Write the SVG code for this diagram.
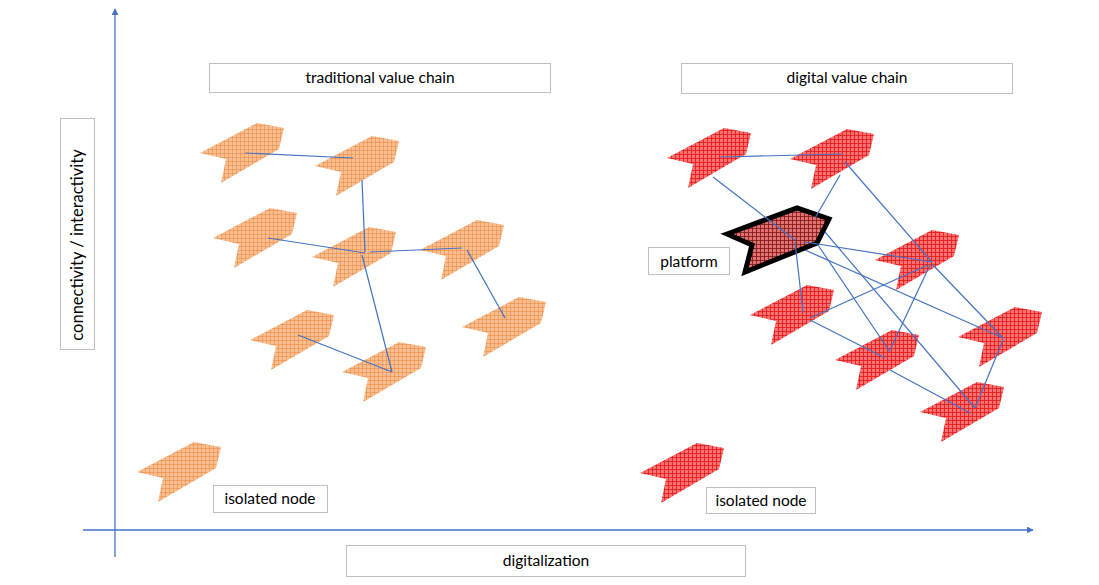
<svg xmlns="http://www.w3.org/2000/svg" width="1099" height="585" viewBox="0 0 1099 585">
<style>
.box{fill:#fff;stroke:#bfbfbf;stroke-width:1}
.lbl{font-family:Lato,"Open Sans","Liberation Sans",sans-serif;font-size:15.5px;fill:#000;text-anchor:middle;dominant-baseline:central}
.ax{stroke:#4472c4;stroke-width:1.3;fill:none}
.cn{stroke:#4472c4;stroke-width:1.2;fill:none}
.or{fill:url(#gOr)}
.rd{fill:url(#gRd)}
</style>
<defs>
<pattern id="gOr" width="4" height="4" patternUnits="userSpaceOnUse">
<rect width="4" height="4" fill="#f9bf90"/>
<path d="M0 0.5H4M0.5 0V4" stroke="#ee9050" stroke-width="0.7"/>
</pattern>
<pattern id="gRd" width="4" height="4" patternUnits="userSpaceOnUse">
<rect width="4" height="4" fill="#ff7070"/>
<path d="M0 0.5H4M0.5 0V4" stroke="#e01818" stroke-width="0.8"/>
</pattern>
<pattern id="gPl" width="4" height="4" patternUnits="userSpaceOnUse">
<rect width="4" height="4" fill="#e27272"/>
<path d="M0 0.5H4M0.5 0V4" stroke="#7a1414" stroke-width="0.8"/>
</pattern>
<path id="chev" d="M0,0 L57,-30 L84,-25 L79,-4 L21,30 L26,6 Z"/>
<marker id="arr" viewBox="0 0 10 10" refX="9" refY="5" markerWidth="7" markerHeight="7" orient="auto" markerUnits="userSpaceOnUse">
<path d="M0,0 L10,5 L0,10 Z" fill="#4472c4"/>
</marker>
</defs>
<rect width="1099" height="585" fill="#fff"/>

<g id="axes">
<line class="ax" x1="115" y1="557" x2="115" y2="9" marker-end="url(#arr)"/>
<line class="ax" x1="83" y1="530" x2="1033" y2="530" marker-end="url(#arr)"/>
</g>

<g id="traditional-nodes">
<use id="o1" href="#chev" class="or" transform="translate(200,153)"/>
<use id="o2" href="#chev" class="or" transform="translate(315,166)"/>
<use id="o3" href="#chev" class="or" transform="translate(213,238)"/>
<use id="o4" href="#chev" class="or" transform="translate(312,257)"/>
<use id="o5" href="#chev" class="or" transform="translate(420,250)"/>
<use id="o6" href="#chev" class="or" transform="translate(462,327)"/>
<use id="o7" href="#chev" class="or" transform="translate(250,340)"/>
<use id="o8" href="#chev" class="or" transform="translate(342,372)"/>
<use id="o9" href="#chev" class="or" transform="translate(137,472)"/>
</g>

<g id="digital-nodes">
<use id="r1" href="#chev" class="rd" transform="translate(667,158)"/>
<use id="r2" href="#chev" class="rd" transform="translate(790,159)"/>
<use id="r3" href="#chev" class="rd" transform="translate(875,260)"/>
<use id="r4" href="#chev" class="rd" transform="translate(750,315)"/>
<use id="r5" href="#chev" class="rd" transform="translate(958,337)"/>
<use id="r6" href="#chev" class="rd" transform="translate(835,360)"/>
<use id="r7" href="#chev" class="rd" transform="translate(920,412)"/>
<use id="r8" href="#chev" class="rd" transform="translate(640,473)"/>
</g>

<g id="platform-node">
<path d="M727,234 L797,208 L829,219 L817,243 L745,272 L752,245 Z" fill="url(#gPl)" stroke="#000" stroke-width="5" stroke-linejoin="miter"/>
</g>

<g id="connectors">
<line class="cn" x1="245" y1="153" x2="353" y2="158"/>
<line class="cn" x1="362" y1="180" x2="365" y2="252"/>
<line class="cn" x1="268" y1="238" x2="365" y2="253"/>
<line class="cn" x1="370" y1="252" x2="462" y2="248"/>
<line class="cn" x1="362" y1="255" x2="392" y2="372"/>
<line class="cn" x1="298" y1="335" x2="392" y2="372"/>
<line class="cn" x1="467" y1="250" x2="505" y2="318"/>

<line class="cn" x1="720" y1="157" x2="843" y2="154"/>
<line class="cn" x1="713" y1="177" x2="795" y2="240"/>
<line class="cn" x1="795" y1="242" x2="803" y2="312"/>
<line class="cn" x1="840" y1="175" x2="815" y2="218"/>
<line class="cn" x1="845" y1="162" x2="932" y2="262"/>
<line class="cn" x1="932" y1="264" x2="1003" y2="338"/>
<line class="cn" x1="805" y1="242" x2="932" y2="262"/>
<line class="cn" x1="928" y1="265" x2="810" y2="318"/>
<line class="cn" x1="930" y1="265" x2="890" y2="350"/>
<line class="cn" x1="810" y1="320" x2="885" y2="358"/>
<line class="cn" x1="890" y1="370" x2="970" y2="413"/>
<line class="cn" x1="1003" y1="340" x2="975" y2="408"/>
<line class="cn" x1="818" y1="245" x2="890" y2="352"/>
<line class="cn" x1="825" y1="232" x2="975" y2="408"/>
<line class="cn" x1="805" y1="250" x2="1003" y2="338"/>
</g>

<g id="label-traditional">
<rect class="box" x="209.5" y="63.5" width="341" height="29"/>
<text class="lbl" x="380" y="77">traditional value chain</text>
</g>
<g id="label-digital">
<rect class="box" x="681.5" y="63.5" width="331" height="30"/>
<text class="lbl" x="847" y="77">digital value chain</text>
</g>
<g id="label-platform">
<rect class="box" x="648.5" y="247.5" width="81" height="27"/>
<text class="lbl" x="689" y="261">platform</text>
</g>
<g id="label-isolated-left">
<rect class="box" x="213.5" y="485.5" width="114" height="27"/>
<text class="lbl" x="270" y="498">isolated node</text>
</g>
<g id="label-isolated-right">
<rect class="box" x="706.5" y="487.5" width="109" height="26"/>
<text class="lbl" x="761" y="500">isolated node</text>
</g>
<g id="label-x">
<rect class="box" x="346.5" y="545.5" width="399" height="31"/>
<text class="lbl" x="546" y="560">digitalization</text>
</g>
<g id="label-y">
<rect class="box" x="60.5" y="118.5" width="34" height="231"/>
<text class="lbl" style="font-size:16.5px" transform="translate(77,245) rotate(-90)">connectivity / interactivity</text>
</g>
</svg>
